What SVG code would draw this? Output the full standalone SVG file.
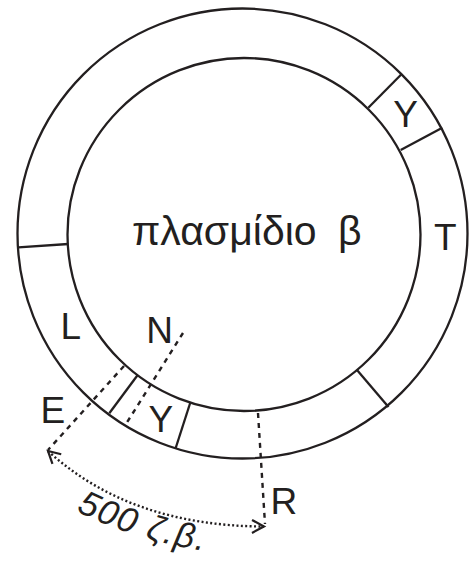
<svg xmlns="http://www.w3.org/2000/svg" width="471" height="565" viewBox="0 0 471 565">
  <style>
    .ln { fill: none; stroke: #231f20; stroke-width: 2.3; }
    .dash { fill: none; stroke: #231f20; stroke-width: 2.4; stroke-dasharray: 5 5; }
    .dot { fill: none; stroke: #231f20; stroke-width: 2.4; stroke-dasharray: 2 2.4; }
    .lbl { font-family: "Liberation Sans", Arial, sans-serif; font-size: 37px; fill: #231f20; }
    .title { font-family: "Liberation Sans", Arial, sans-serif; font-size: 41px; fill: #231f20; }
    .dist { font-family: "Liberation Sans", Arial, sans-serif; font-size: 35px; font-style: italic; letter-spacing: 1.5px; fill: #231f20; }
  </style>
  <defs>
    <marker id="chev" markerUnits="userSpaceOnUse" markerWidth="20" markerHeight="20" refX="0" refY="0" viewBox="-14 -10 20 20" orient="auto-start-reverse" overflow="visible">
      <path d="M-12,-6.5 L0,0 L-12,6.5" fill="none" stroke="#231f20" stroke-width="2.2"/>
    </marker>
    <path id="distPath" d="M76,511 Q146,546 240,556"/>
  </defs>

  <rect width="471" height="565" fill="#ffffff"/>

  <g id="plasmid">
    <circle class="ln" cx="242.5" cy="233.5" r="225"/>
    <circle class="ln" cx="244" cy="234.5" r="176.5"/>
  </g>

  <g id="segments">
    <line class="ln" x1="18.3" y1="247.3" x2="68.3" y2="244"/>
    <line class="ln" x1="368.3" y1="107.7" x2="401.7" y2="74"/>
    <line class="ln" x1="400.7" y1="150" x2="442.3" y2="127.7"/>
    <line class="ln" x1="357" y1="370" x2="388.5" y2="407"/>
    <line class="ln" x1="137.7" y1="375" x2="109.3" y2="413.3"/>
    <line class="ln" x1="190.5" y1="402" x2="175.7" y2="448"/>
  </g>

  <g id="title">
    <text class="title" x="132" y="245">πλασμίδιο<tspan x="338">β</tspan></text>
  </g>

  <g id="label-Y-top"><text class="lbl" x="405.5" y="126.5" text-anchor="middle">Y</text></g>
  <g id="label-T"><text class="lbl" x="445.3" y="250" text-anchor="middle">T</text></g>
  <g id="label-L"><text class="lbl" x="60.6" y="339.3">L</text></g>
  <g id="label-N"><text class="lbl" x="159.5" y="343.3" text-anchor="middle">N</text></g>
  <g id="label-E"><text class="lbl" x="40.4" y="423.3">E</text></g>
  <g id="label-Y-bottom"><text class="lbl" x="160.8" y="431.7" text-anchor="middle">Y</text></g>
  <g id="label-R"><text class="lbl" x="270.4" y="514">R</text></g>

  <g id="connectors">
    <line class="dash" x1="183" y1="333" x2="126" y2="424"/>
    <line class="dash" x1="124" y1="366" x2="48" y2="450"/>
    <line class="dash" x1="258" y1="413" x2="265" y2="524"/>
    <path class="dot" d="M48,451 Q130,526 264,526.5" marker-start="url(#chev)" marker-end="url(#chev)"/>
  </g>

  <g id="distance-label">
    <text class="dist"><textPath href="#distPath">500 ζ.β.</textPath></text>
  </g>
</svg>
